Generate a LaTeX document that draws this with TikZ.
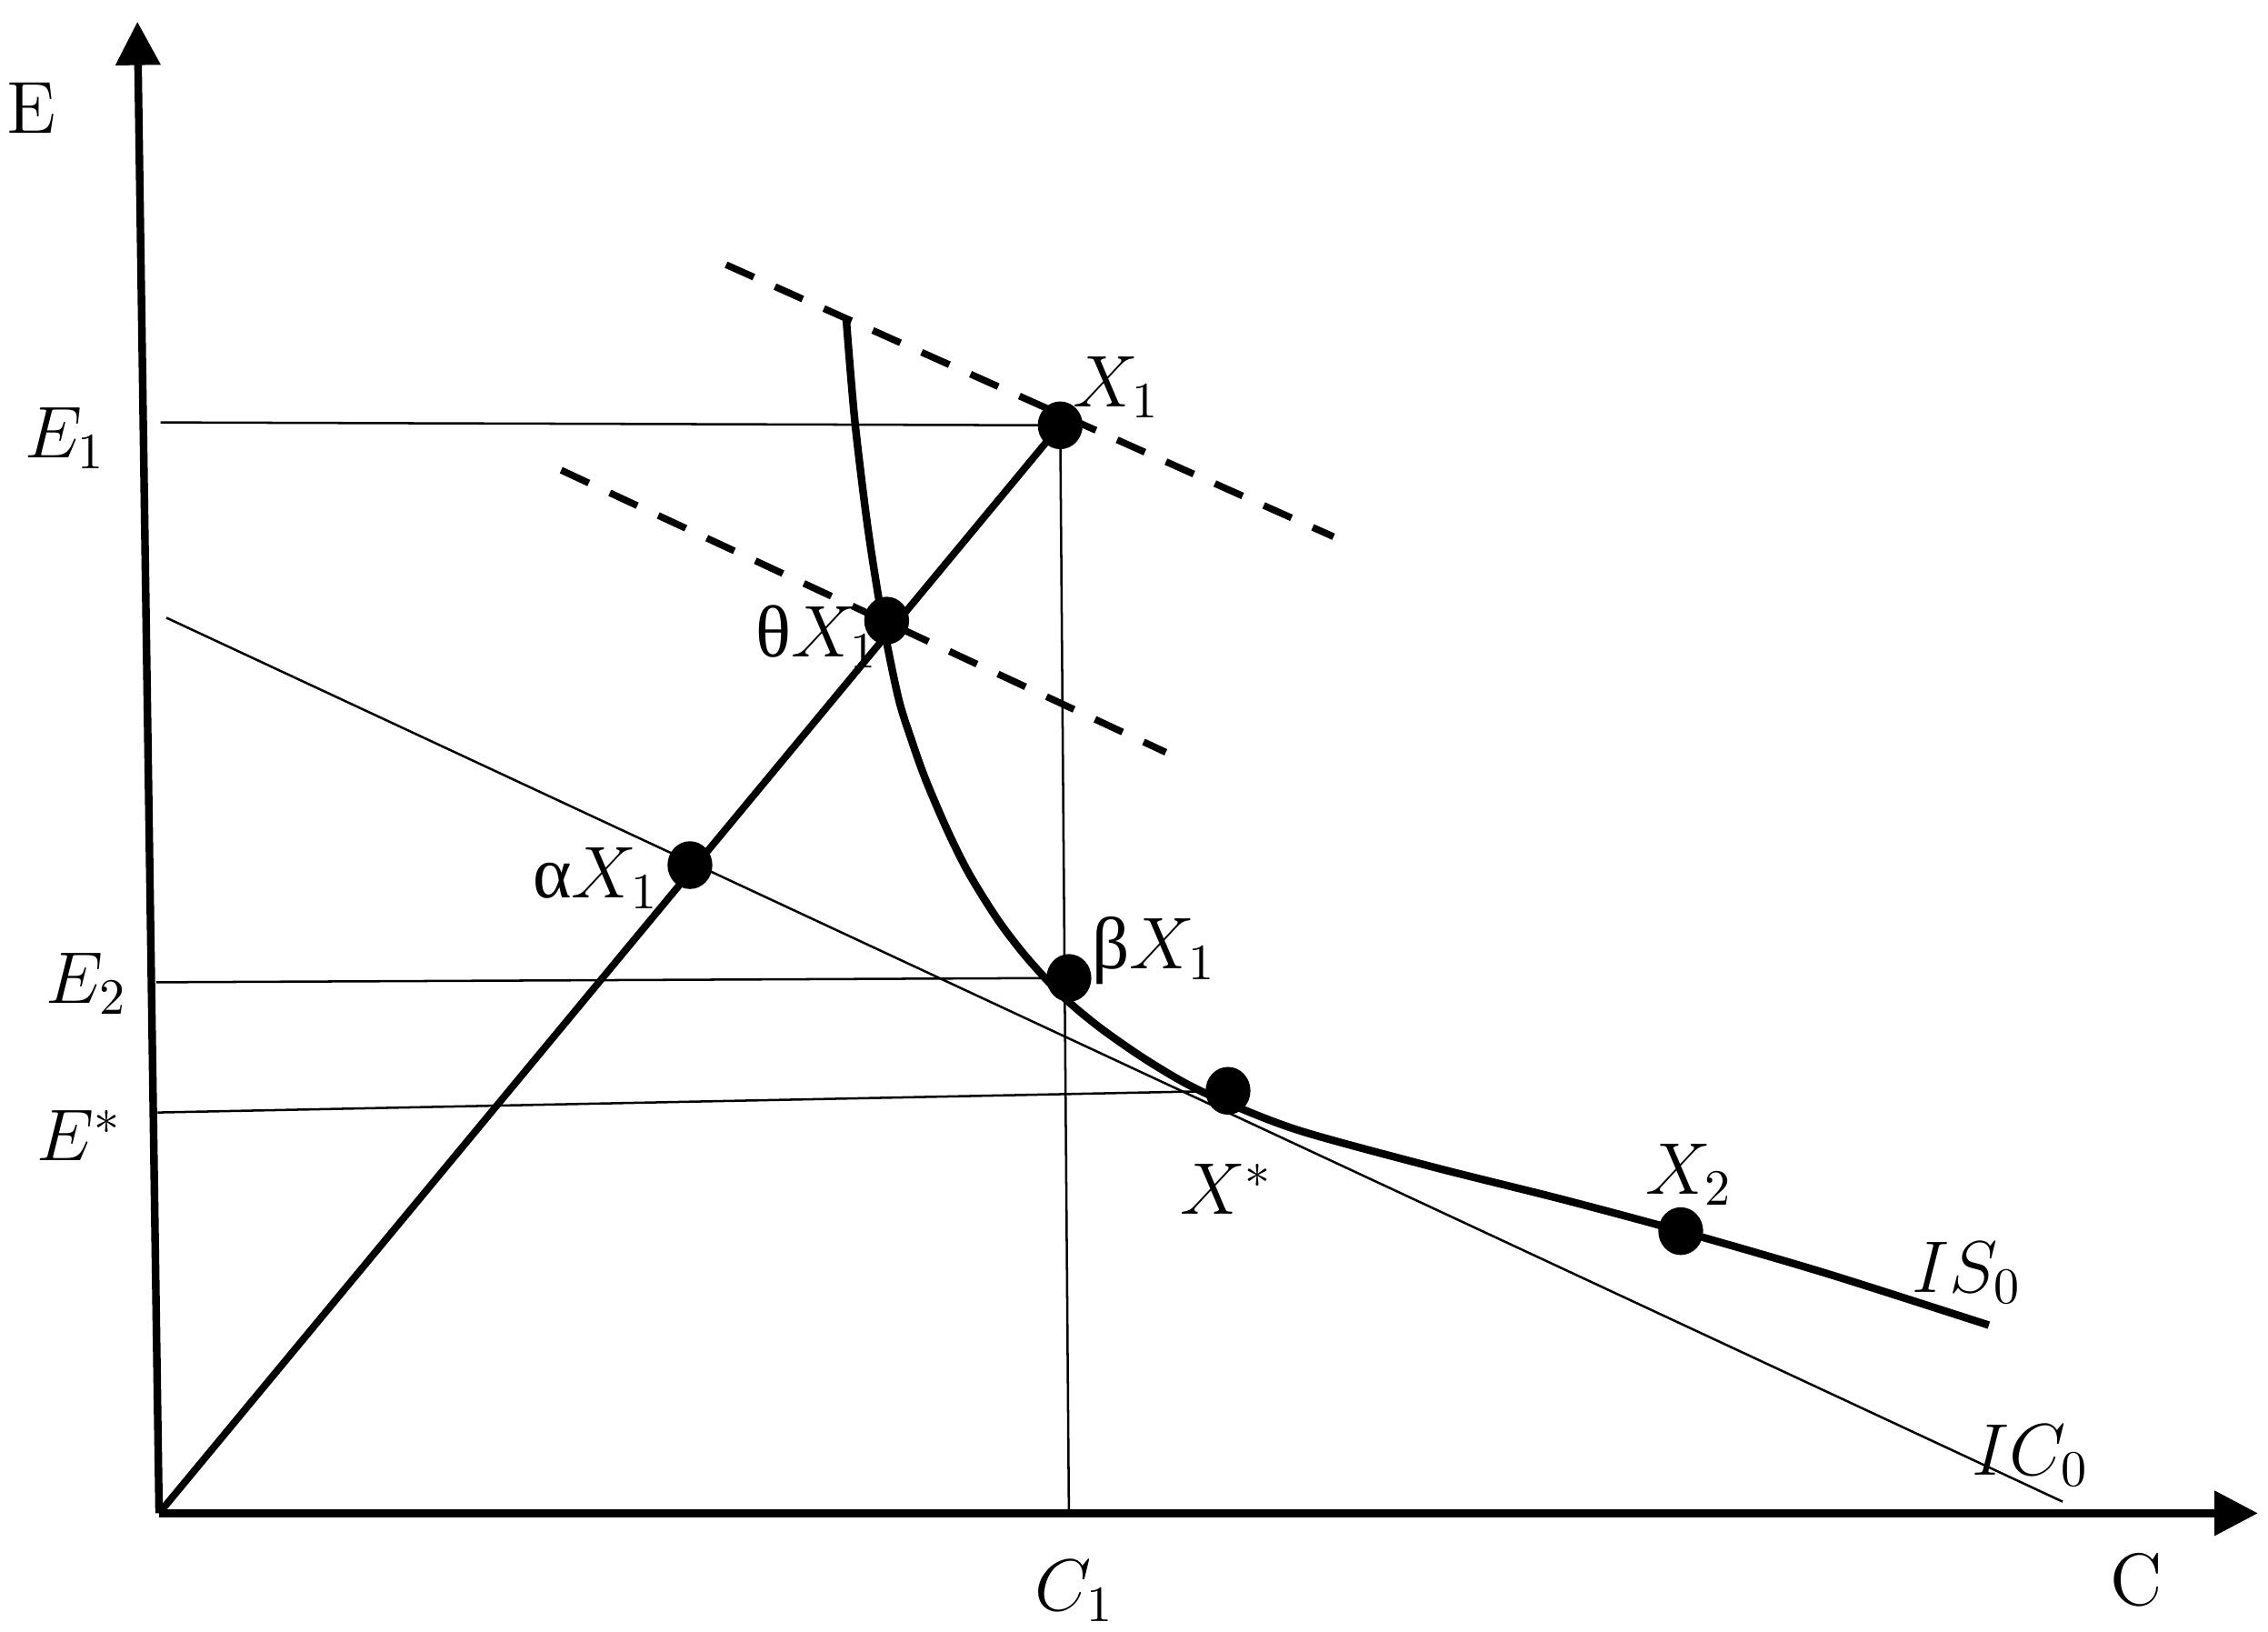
\documentclass[tikz,border=0pt]{standalone}
\usepackage{fontspec}
\newfontfamily\grk{Liberation Serif}
\usetikzlibrary{arrows.meta,shapes.geometric}
\begin{document}
\begin{tikzpicture}[x=0.01cm,y=-0.01cm,
  axisline/.style={line width=1.5pt,-{Triangle[length=0.3cm,width=0.3cm]}},
  thinline/.style={line width=0.45pt},
  raystyle/.style={line width=1.4pt},
  iscurve/.style={line width=1.5pt},
  dashline/.style={line width=1.35pt,dash pattern=on 0.21cm off 0.16cm},
  dotnode/.style={ellipse,fill=black,inner sep=0pt,minimum width=0.31cm,minimum height=0.33cm},
  lab/.style={font=\fontsize{14.5}{17}\selectfont,inner sep=0pt}]
\useasboundingbox (0,0) rectangle (1568,1128);

% key coordinates
\coordinate (O) at (110,1046);
\coordinate (ytip) at (95,15);
\coordinate (xtip) at (1561,1046);
\coordinate (X1) at (733,294);
\coordinate (tX1) at (613,429);
\coordinate (aX1) at (477,598);
\coordinate (bX1) at (739,676);
\coordinate (Xs) at (849,754);
\coordinate (X2) at (1162,851);
\coordinate (e1) at (111,292);
\coordinate (e2) at (108,679);
\coordinate (es) at (109,769);
\coordinate (c1) at (739,1046);
\coordinate (ic0a) at (115,427);
\coordinate (ic0b) at (1426,1038);
\coordinate (d1a) at (502,183);
\coordinate (d1b) at (922,371);
\coordinate (d2a) at (388,325);
\coordinate (d2b) at (806,520);

% thin guide lines
\draw[thinline] (e1) -- (X1);
\draw[thinline] (X1) -- (c1);
\draw[thinline] (e2) -- (bX1);
\draw[thinline] (es) -- (Xs);
\draw[thinline] (ic0a) -- (ic0b);

% dashed lines
\draw[dashline] (d1a) -- (d1b);
\draw[dashline] (d2a) -- (d2b);

% ray
\draw[raystyle] (O) -- (X1);

% IS0 curve
\draw[iscurve] plot[smooth,tension=0.5] coordinates {(585,220) (591,291) (600,365) (610,428) (621,482) (630,511) (640,539) (655,574) (670,604) (690,636) (710,662) (735,689) (760,710) (790,731) (820,749) (850,763) (900,782) (992,807) (1080,829) (1162,851) (1262,880) (1375,916)};

% axes
\draw[axisline] (O) -- (ytip);
\draw[axisline] (O) -- (xtip);

% dots
\foreach \p in {X1,tX1,aX1,bX1,Xs,X2} \node[dotnode] (n\p) at (\p) {};

% labels
\node[lab] (lE) at (22,75) {E};
\node[lab] (lE1) at (45,303) {$E_1$};
\node[lab] (lE2) at (60,680) {$E_2$};
\node[lab] (lEs) at (55,785) {$E^*$};
\node[lab] (lC1) at (743,1100) {$C_1$};
\node[lab] (lC) at (1477,1092) {C};
\node[lab] (lX1) at (772,268) {$X_1$};
\node[lab] (ltX1) at (565,440) {{\grk θ}$X_1$};
\node[lab] (laX1) at (412,607) {{\grk α}$X_1$};
\node[lab] (lbX1) at (798,657) {{\grk β}$X_1$};
\node[lab] (lXs) at (848,822) {$X^*$};
\node[lab] (lX2) at (1168,812) {$X_2$};
\node[lab] (lIS) at (1360,880) {$IS_0$};
\node[lab] (lIC) at (1404,1006) {$IC_0$};
\end{tikzpicture}
\end{document}
